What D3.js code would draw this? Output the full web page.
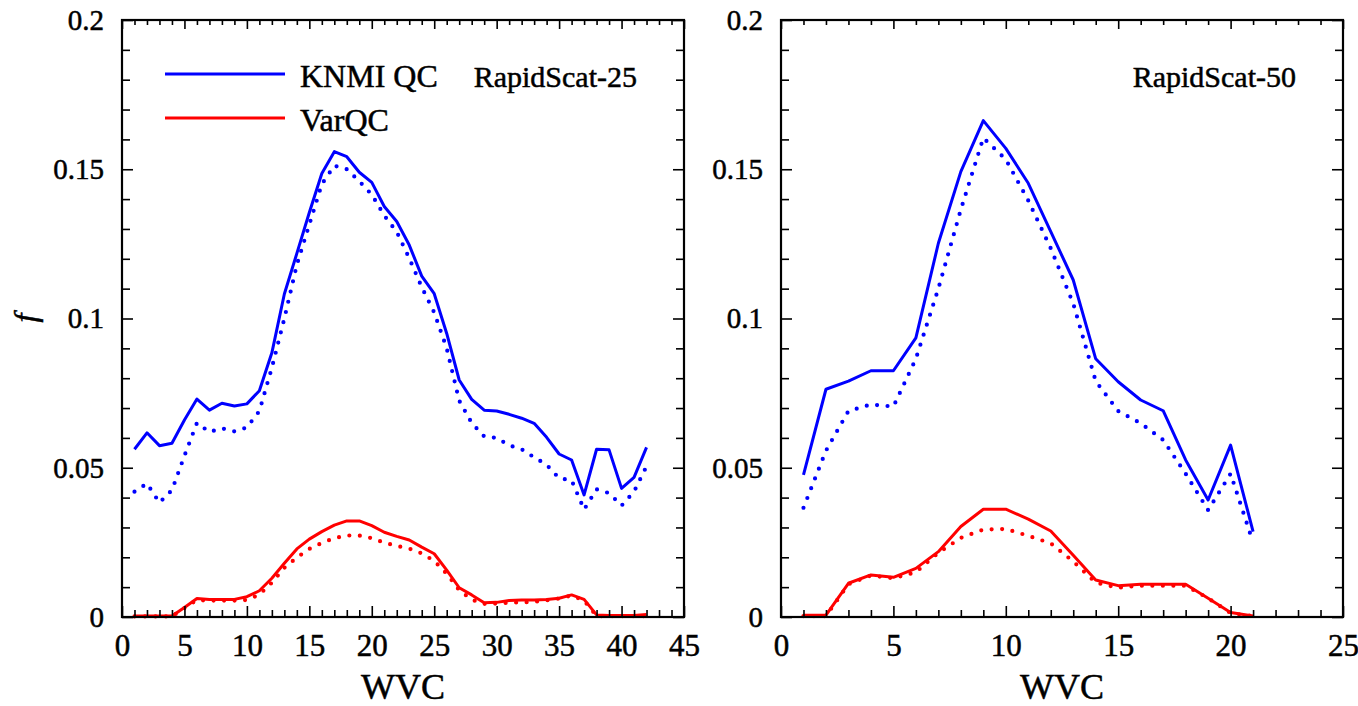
<!DOCTYPE html>
<html>
<head>
<meta charset="utf-8">
<script src="https://cdn.jsdelivr.net/npm/d3@7"></script>
<style>
  body { margin: 0; background: #ffffff; }
  svg, svg text { font-family: 'Liberation Serif', Tinos, 'Times New Roman', Times, serif !important; }
  svg text { stroke: #000; stroke-width: 0.5px; }
</style>
</head>
<body>
<svg id="drawing_region"></svg>
<script>
// ---- data ----
const wvc25 = [1,2,3,4,5,6,7,8,9,10,11,12,13,14,15,16,17,18,19,20,21,
               22,23,24,25,26,27,28,29,30,31,32,33,34,35,36,37,38,39,40,41,42];
const knmi25 = [0.0562,0.0617,0.0574,0.0582,0.0660,0.0730,0.0693,0.0716,0.0707,0.0714,0.0758,
                0.0885,0.1082,0.1218,0.1355,0.1486,0.1559,0.1542,0.1490,0.1456,0.1375,
                0.1325,0.1246,0.1142,0.1083,0.0950,0.0794,0.0729,0.0693,0.0690,0.0679,
                0.0666,0.0649,0.0602,0.0546,0.0526,0.0409,0.0562,0.0560,0.0431,0.0468,0.0568];
const knmi25Dot = [0.0420,0.0447,0.0383,0.0425,0.0540,0.0650,0.0620,0.0632,0.0622,0.0635,0.0690,
                   0.0835,0.1000,0.1180,0.1315,0.1450,0.1512,0.1500,0.1460,0.1415,0.1345,
                   0.1290,0.1202,0.1105,0.1020,0.0900,0.0725,0.0650,0.0605,0.0600,0.0575,
                   0.0562,0.0535,0.0510,0.0465,0.0458,0.0360,0.0428,0.0415,0.0373,0.0420,0.0505];
const varqc25 = [0.0003,0.0003,0.0003,0.0003,0.0032,0.0062,0.0059,0.0059,0.0059,0.0068,0.0088,
                 0.0130,0.0180,0.0228,0.0261,0.0286,0.0308,0.0322,0.0322,0.0306,0.0284,
                 0.0270,0.0258,0.0234,0.0212,0.0157,0.0098,0.0074,0.0048,0.0049,0.0055,
                 0.0057,0.0057,0.0059,0.0063,0.0074,0.0059,0.0007,0.0005,0.0005,0.0005,0.0008];
const varqc25Dot = [0.0002,0.0002,0.0002,0.0002,0.0030,0.0057,0.0055,0.0055,0.0055,0.0057,0.0075,
                    0.0115,0.0165,0.0199,0.0228,0.0248,0.0264,0.0273,0.0273,0.0264,0.0249,
                    0.0238,0.0229,0.0213,0.0188,0.0145,0.0090,0.0058,0.0044,0.0045,0.0048,
                    0.0049,0.0051,0.0056,0.0062,0.0072,0.0055,0.0003,0.0003,0.0003,0.0003,0.0003];

const wvc50 = [1,2,3,4,5,6,7,8,9,10,11,12,13,14,15,16,17,18,19,20,21];
const knmi50 = [0.0476,0.0763,0.0790,0.0825,0.0825,0.0935,0.1252,0.1492,0.1663,0.1570,0.1453,
                0.1291,0.1129,0.0865,0.0788,0.0727,0.0691,0.0526,0.0392,0.0576,0.0286];
const knmi50Dot = [0.0366,0.0557,0.0690,0.0712,0.0705,0.0865,0.1100,0.1365,0.1605,0.1533,0.1395,
                   0.1235,0.1050,0.0790,0.0690,0.0649,0.0593,0.0480,0.0358,0.0480,0.0250];
const varqc50 = [0.0006,0.0006,0.0113,0.0141,0.0133,0.0163,0.0219,0.0303,0.0361,0.0361,0.0328,
                 0.0288,0.0207,0.0124,0.0105,0.0110,0.0110,0.0110,0.0063,0.0015,0.0003];
const varqc50Dot = [0.0003,0.0003,0.0110,0.0139,0.0130,0.0150,0.0215,0.0265,0.0293,0.0295,0.0272,
                    0.0247,0.0186,0.0115,0.0098,0.0105,0.0105,0.0105,0.0063,0.0013,0.0003];

const yTicks = [0, 0.05, 0.1, 0.15, 0.2];
const yTickLabels = ["0", "0.05", "0.1", "0.15", "0.2"];
const xTicks25 = [0,5,10,15,20,25,30,35,40,45];
const xTicks50 = [0,5,10,15,20,25];
const legendNames = ["KNMI QC", "VarQC"];
const colors = ["#0000ff", "#ff0000"];

const serif = "'Liberation Serif', Tinos, 'Times New Roman', serif";

const svg = d3.select('#drawing_region')
    .attr('width', 1358)
    .attr('height', 706)
    .attr('font-family', serif);

class LinePanel {
    constructor(config) {
        this.config = config;
        this.init();
    }

    init() {
        let self = this;
        const c = self.config;

        self.chart = svg.append('g')
            .attr('transform', `translate(${c.left}, ${c.top})`);

        self.xscale = d3.scaleLinear().domain([0, c.xmax]).range([0, c.width]);
        self.yscale = d3.scaleLinear().domain([0, 0.2]).range([c.height, 0]);
    }

    drawAxes() {
        let self = this;
        const c = self.config;
        const xminor = d3.range(0, c.xmax + 1).filter(v => v % 5 !== 0);
        const yminor = d3.range(1, 20).filter(v => v % 5 !== 0).map(v => v / 100);

        const styleAxis = g => {
            g.attr('font-family', serif);
            g.select('.domain').remove();
            g.selectAll('line').attr('stroke', '#000').attr('stroke-width', 1.6);
        };

        // bottom major with labels
        self.chart.append('g')
            .attr('transform', `translate(0, ${c.height})`)
            .call(d3.axisBottom(self.xscale).tickValues(c.xticks).tickSize(-11).tickPadding(17).tickFormat(d3.format('d')))
            .call(styleAxis)
            .selectAll('text')
            .attr('font-size', 31).attr('fill', '#000');
        self.chart.append('g')
            .attr('transform', `translate(0, ${c.height})`)
            .call(d3.axisBottom(self.xscale).tickValues(xminor).tickSize(-7).tickFormat(''))
            .call(styleAxis);

        // top
        self.chart.append('g')
            .call(d3.axisTop(self.xscale).tickValues(c.xticks).tickSize(-9).tickFormat(''))
            .call(styleAxis);
        self.chart.append('g')
            .call(d3.axisTop(self.xscale).tickValues(xminor).tickSize(-5).tickFormat(''))
            .call(styleAxis);

        // left major with labels
        self.chart.append('g')
            .call(d3.axisLeft(self.yscale).tickValues(yTicks).tickSize(-11).tickPadding(18)
                .tickFormat((d, i) => yTickLabels[i]))
            .call(styleAxis)
            .selectAll('text')
            .attr('font-size', 29).attr('fill', '#000');
        self.chart.append('g')
            .call(d3.axisLeft(self.yscale).tickValues(yminor).tickSize(-8).tickFormat(''))
            .call(styleAxis);

        // right
        self.chart.append('g')
            .attr('transform', `translate(${c.width}, 0)`)
            .call(d3.axisRight(self.yscale).tickValues(yTicks).tickSize(-11).tickFormat(''))
            .call(styleAxis);
        self.chart.append('g')
            .attr('transform', `translate(${c.width}, 0)`)
            .call(d3.axisRight(self.yscale).tickValues(yminor).tickSize(-8).tickFormat(''))
            .call(styleAxis);

        // frame
        self.chart.append('rect')
            .attr('x', 0).attr('y', 0)
            .attr('width', c.width).attr('height', c.height)
            .attr('fill', 'none').attr('stroke', '#000').attr('stroke-width', 2.2);

        // x label
        self.chart.append('text')
            .attr('x', c.width / 2)
            .attr('y', c.height + 82)
            .attr('text-anchor', 'middle')
            .attr('font-size', 36)
            .text('WVC');

        // panel title
        self.chart.append('text')
            .attr('x', c.width - 47)
            .attr('y', 67)
            .attr('text-anchor', 'end')
            .attr('font-size', 30)
            .text(c.title);
    }

    drawLines(xs, series) {
        let self = this;
        const line = d3.line()
            .x((d, i) => self.xscale(xs[i]))
            .y(d => self.yscale(d));

        series.forEach(s => {
            const path = self.chart.append('path')
                .datum(s.values)
                .attr('fill', 'none')
                .attr('stroke', s.color)
                .attr('d', line);
            if (s.dotted) {
                path.attr('stroke-width', 4.2)
                    .attr('stroke-linecap', 'round')
                    .attr('stroke-dasharray', '0,10.5');
            } else {
                path.attr('stroke-width', 3)
                    .attr('stroke-linejoin', 'round');
            }
        });
    }
}

const left = new LinePanel({ left: 122, top: 20, width: 562, height: 597, xmax: 45, xticks: xTicks25, title: 'RapidScat-25' });
left.drawLines(wvc25, [
    { values: knmi25Dot, color: colors[0], dotted: true },
    { values: varqc25Dot, color: colors[1], dotted: true },
    { values: knmi25, color: colors[0], dotted: false },
    { values: varqc25, color: colors[1], dotted: false }
]);
left.drawAxes();

const right = new LinePanel({ left: 781, top: 20, width: 562, height: 597, xmax: 25, xticks: xTicks50, title: 'RapidScat-50' });
right.drawLines(wvc50, [
    { values: knmi50Dot, color: colors[0], dotted: true },
    { values: varqc50Dot, color: colors[1], dotted: true },
    { values: knmi50, color: colors[0], dotted: false },
    { values: varqc50, color: colors[1], dotted: false }
]);
right.drawAxes();

// y label
svg.append('text')
    .attr('transform', 'translate(36, 318) rotate(-90)')
    .attr('text-anchor', 'middle')
    .attr('font-size', 32)
    .attr('font-style', 'italic')
    .text('f');

// legend (left panel only)
const legend = left.chart.append('g');
legendNames.forEach((name, i) => {
    const ly = 54 + i * 44;
    legend.append('line')
        .attr('x1', 43).attr('x2', 163)
        .attr('y1', ly).attr('y2', ly)
        .attr('stroke', colors[i]).attr('stroke-width', 3);
    legend.append('text')
        .attr('x', 178).attr('y', ly + 13)
        .attr('font-size', 32)
        .text(name);
});
</script>
</body>
</html>
